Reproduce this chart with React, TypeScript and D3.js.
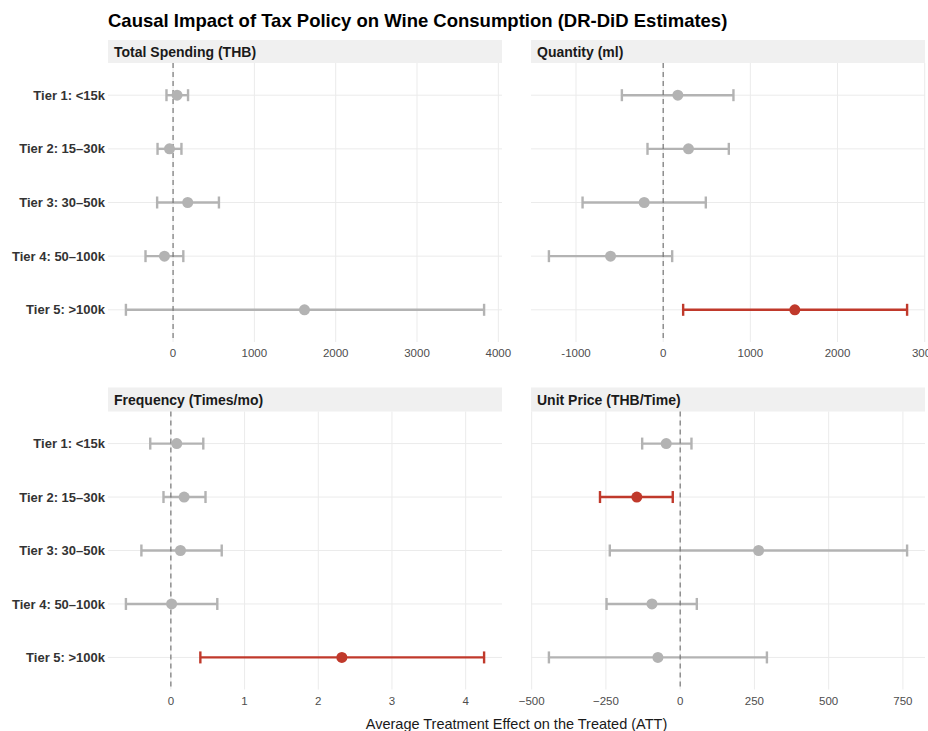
import React from "react";
import * as d3 from "d3";

const tiers = ["Tier 1: <15k", "Tier 2: 15–30k", "Tier 3: 30–50k", "Tier 4: 50–100k", "Tier 5: >100k"];

const outcomes = ["Total Spending (THB)", "Quantity (ml)", "Frequency (Times/mo)", "Unit Price (THB/Time)"];

// point estimates and 95% CI per outcome, one value per tier
const spendingEst = [49, -44, 180, -106, 1616];
const spendingLo = [-81, -191, -196, -339, -580];
const spendingHi = [184, 103, 564, 126, 3825];

const quantityEst = [168, 290, -218, -604, 1510];
const quantityLo = [-474, -180, -925, -1311, 229];
const quantityHi = [806, 753, 489, 103, 2798];

const frequencyEst = [0.08, 0.18, 0.13, 0.01, 2.32];
const frequencyLo = [-0.28, -0.1, -0.4, -0.61, 0.4];
const frequencyHi = [0.44, 0.47, 0.69, 0.63, 4.25];

const priceEst = [-47, -146, 264, -95, -75];
const priceLo = [-128, -270, -237, -248, -442];
const priceHi = [38, -25, 764, 56, 292];

const spendingTicks = [0, 1000, 2000, 3000, 4000];
const quantityTicks = [-1000, 0, 1000, 2000, 3000];
const frequencyTicks = [0, 1, 2, 3, 4];
const priceTicks = [-500, -250, 0, 250, 500, 750];

const W = 928;
const H = 731;
const cols = [
  [108, 502],
  [531, 925],
];
const rows = [
  { strip: 40, top: 63, bottom: 342 },
  { strip: 387.5, top: 411.5, bottom: 689.5 },
];

const GRAY = "#b3b3b3";
const RED = "#c0392b";
const FONT = "'Liberation Sans', Arial, Helvetica, sans-serif";

const fmtPlain = (v: number) => String(v);
const fmtMinus = (v: number) => (v < 0 ? "\u2212" + Math.abs(v) : String(v));

const panels = [
  { title: outcomes[0], est: spendingEst, lo: spendingLo, hi: spendingHi, ticks: spendingTicks, fmt: fmtPlain, col: 0, row: 0 },
  { title: outcomes[1], est: quantityEst, lo: quantityLo, hi: quantityHi, ticks: quantityTicks, fmt: fmtPlain, col: 1, row: 0 },
  { title: outcomes[2], est: frequencyEst, lo: frequencyLo, hi: frequencyHi, ticks: frequencyTicks, fmt: fmtPlain, col: 0, row: 1 },
  { title: outcomes[3], est: priceEst, lo: priceLo, hi: priceHi, ticks: priceTicks, fmt: fmtMinus, col: 1, row: 1 },
];

function Panel({ p }: { p: (typeof panels)[number] }) {
  const [x0, x1] = cols[p.col];
  const r = rows[p.row];
  const lo = d3.min(p.lo) as number;
  const hi = d3.max(p.hi) as number;
  const pad = (hi - lo) * 0.05;
  const x = d3.scaleLinear().domain([lo - pad, hi + pad]).range([x0, x1]);
  const y = d3.scalePoint<string>().domain(tiers).range([r.top, r.bottom]).padding(0.6);

  return (
    <g>
      <rect x={x0} y={r.strip} width={x1 - x0} height={r.top - r.strip} fill="#f0f0f0" />
      <text x={x0 + 6} y={(r.strip + r.top) / 2 + 5} fontSize={14} fontWeight="bold" fill="#1a1a1a">
        {p.title}
      </text>

      {tiers.map((t) => (
        <line key={t} x1={x0} x2={x1} y1={y(t)} y2={y(t)} stroke="#ebebeb" strokeWidth={1} />
      ))}
      {p.ticks.map((v) => (
        <line key={v} x1={x(v)} x2={x(v)} y1={r.top} y2={r.bottom} stroke="#ebebeb" strokeWidth={1} />
      ))}

      {p.ticks.map((v) => (
        <text key={"t" + v} x={x(v)} y={r.bottom + 15} fontSize={11.5} fill="#4d4d4d" textAnchor="middle">
          {p.fmt(v)}
        </text>
      ))}

      {p.col === 0 &&
        tiers.map((t) => (
          <text key={"l" + t} x={105} y={y(t)} dy="0.35em" fontSize={13} fontWeight="bold" fill="#333" textAnchor="end">
            {t}
          </text>
        ))}

      {tiers.map((t, i) => {
        const sig = p.lo[i] > 0 || p.hi[i] < 0;
        const c = sig ? RED : GRAY;
        const yy = y(t) as number;
        return (
          <g key={"e" + t} stroke={c} strokeWidth={2.4}>
            <line x1={x(p.lo[i])} x2={x(p.hi[i])} y1={yy} y2={yy} />
            <line x1={x(p.lo[i])} x2={x(p.lo[i])} y1={yy - 6} y2={yy + 6} />
            <line x1={x(p.hi[i])} x2={x(p.hi[i])} y1={yy - 6} y2={yy + 6} />
          </g>
        );
      })}

      <line x1={x(0)} x2={x(0)} y1={r.top} y2={r.bottom} stroke="#777" strokeWidth={1.2} strokeDasharray="5 4" />

      {tiers.map((t, i) => {
        const sig = p.lo[i] > 0 || p.hi[i] < 0;
        return <circle key={"p" + t} cx={x(p.est[i])} cy={y(t)} r={5.5} fill={sig ? RED : GRAY} />;
      })}
    </g>
  );
}

export default function App() {
  return (
    <svg
      width={W}
      height={H}
      style={{ position: "absolute", left: 0, top: 0, background: "#fff" }}
      fontFamily={FONT}
    >
      <rect width={W} height={H} fill="#fff" />
      <text x={108} y={27} fontSize={18.5} fontWeight="bold" fill="#000">
        Causal Impact of Tax Policy on Wine Consumption (DR-DiD Estimates)
      </text>
      {panels.map((p) => (
        <Panel key={p.title} p={p} />
      ))}
      <text x={516.5} y={729} fontSize={14.5} fill="#1a1a1a" textAnchor="middle">
        Average Treatment Effect on the Treated (ATT)
      </text>
    </svg>
  );
}
